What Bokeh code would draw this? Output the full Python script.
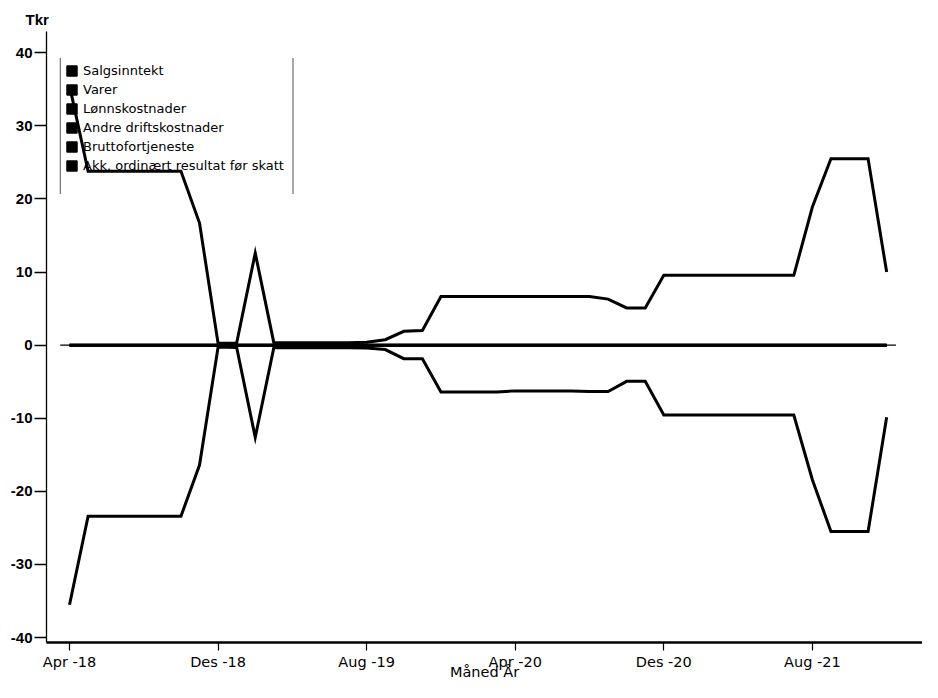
import numpy as np
from bokeh.plotting import figure
from bokeh.models import Range1d, FixedTicker, Legend, LegendItem, Title, BoxAnnotation
from bokeh.embed import file_html
from bokeh.resources import INLINE

# ---- data ----
month_names = ["Jan", "Feb", "Mar", "Apr", "Mai", "Jun", "Jul", "Aug", "Sep", "Okt", "Nov", "Des"]
periods = [("18", 3, 12), ("19", 0, 12), ("20", 0, 12), ("21", 0, 12)]
months = [f"{month_names[m]} -{yy}" for yy, a, b in periods for m in range(a, b)]

tick_labels = ["Apr -18", "Des -18", "Aug -19", "Apr -20", "Des -20", "Aug -21"]
y_ticks = [-40, -30, -20, -10, 0, 10, 20, 30, 40]

series_names = ["Salgsinntekt", "Varer", "Lønnskostnader", "Andre driftskostnader",
                "Bruttofortjeneste", "Akk. ordinært resultat før skatt"]

salgsinntekt = [35.5, 23.8, 23.8, 23.8, 23.8, 23.8, 23.8, 16.7, 0.25, 0.3,
                12.6, 0.35, 0.35, 0.35, 0.35, 0.35, 0.4, 0.75, 1.9, 2.0,
                6.65, 6.65, 6.65, 6.65, 6.65, 6.65, 6.65, 6.65, 6.65, 6.3,
                5.1, 5.1, 9.55, 9.55, 9.55, 9.55, 9.55, 9.55, 9.55, 9.55,
                18.9, 25.5, 25.5, 25.5, 10.0]
varer = [-35.5, -23.4, -23.4, -23.4, -23.4, -23.4, -23.4, -16.4, -0.25, -0.3,
         -12.6, -0.35, -0.35, -0.35, -0.35, -0.35, -0.4, -0.6, -1.85, -1.85,
         -6.4, -6.4, -6.4, -6.4, -6.25, -6.25, -6.25, -6.25, -6.35, -6.35,
         -4.95, -4.95, -9.55, -9.55, -9.55, -9.55, -9.55, -9.55, -9.55, -9.55,
         -18.4, -25.5, -25.5, -25.5, -9.85]
lonnskostnader = [0, 0, 0, 0, 0, 0, 0, 0, 0, 0, 0, 0, 0, 0, 0, 0, 0, 0, 0, 0, 0, 0, 0,
                  0, 0, 0, 0, 0, 0, 0, 0, 0, 0, 0, 0, 0, 0, 0, 0, 0, 0, 0, 0, 0, 0]
andre_drift = [0, 0, 0, 0, 0, 0, 0, 0, 0, 0, 0, 0, 0, 0, 0, 0, 0, 0, 0, 0, 0, 0, 0,
               0, 0, 0, 0, 0, 0, 0, 0, 0, 0, 0, 0, 0, 0, 0, 0, 0, 0, 0, 0, 0, 0]
bruttofortjeneste = [0, 0, 0, 0, 0, 0, 0, 0, 0, 0, 0, 0, 0, 0, 0, 0, 0, 0, 0, 0, 0, 0, 0,
                     0, 0, 0, 0, 0, 0, 0, 0, 0, 0, 0, 0, 0, 0, 0, 0, 0, 0, 0, 0, 0, 0]
akk_resultat = [0, 0, 0, 0, 0, 0, 0, 0, 0, 0, 0, 0, 0, 0, 0, 0, 0, 0, 0, 0, 0, 0, 0,
                0, 0, 0, 0, 0, 0, 0, 0, 0, 0, 0, 0, 0, 0, 0, 0, 0, 0, 0, 0, 0, 0]

x = list(range(len(months)))

# ---- figure ----
p = figure(width=922, height=682, output_backend="svg", toolbar_location=None,
           x_range=Range1d(-1.24, 45.93), y_range=Range1d(-40.67, 42.91),
           min_border_left=46, min_border_right=0, min_border_top=31, min_border_bottom=38)
p.grid.visible = False
p.outline_line_color = None
p.background_fill_color = "white"

# bars of zero height (baseline across categories)
p.vbar(x=x, top=bruttofortjeneste, width=1.0, bottom=0, fill_color="black",
       line_color="black", line_width=1.3)
for ys in (lonnskostnader, andre_drift, akk_resultat):
    p.line(x, ys, line_color="black", line_width=3)
p.line(x, salgsinntekt, line_color="black", line_width=3, line_join="miter")
p.line(x, varer, line_color="black", line_width=3, line_join="miter")

# legend with square swatches (swatch renderers hold no drawable point)
items = []
for name in series_names:
    r = p.quad(left=np.array([np.nan]), right=np.array([np.nan]),
               top=np.array([np.nan]), bottom=np.array([np.nan]),
               fill_color="black", line_color="black")
    items.append(LegendItem(label=name, renderers=[r]))
legend = Legend(items=items, location=(19, 469), padding=0, margin=0, spacing=4,
                glyph_width=13, glyph_height=13, label_height=13, label_standoff=5,
                label_text_font="DejaVu Sans", label_text_font_size="13px",
                label_text_color="black",
                border_line_alpha=0, background_fill_alpha=0)
p.add_layout(legend)

for lx in (13.3, 246.0):
    p.add_layout(BoxAnnotation(left=lx, right=lx + 1, top=584.4, bottom=448.6,
                               left_units="screen", right_units="screen",
                               top_units="screen", bottom_units="screen",
                               fill_color="#555555", fill_alpha=1, line_color=None))

# axes
xa = p.xaxis[0]
xa.ticker = FixedTicker(ticks=[months.index(t) for t in tick_labels])
xa.major_label_overrides = {months.index(t): t for t in tick_labels}
xa.axis_line_width = 2.5
xa.axis_line_color = "black"
xa.major_tick_out = 8
xa.major_tick_in = 0
xa.major_tick_line_width = 1.2
xa.minor_tick_out = 0
xa.minor_tick_in = 0
xa.major_label_standoff = 3
xa.major_label_text_font = "DejaVu Sans"
xa.major_label_text_font_size = "14.5px"
xa.major_label_text_color = "black"
xa.axis_label = "Måned År"
xa.axis_label_standoff = -9
xa.axis_label_text_font = "DejaVu Sans"
xa.axis_label_text_font_size = "14.5px"
xa.axis_label_text_font_style = "normal"
xa.axis_label_text_color = "black"

ya = p.yaxis[0]
ya.ticker = FixedTicker(ticks=y_ticks)
ya.major_label_overrides = {t: str(t) for t in y_ticks}
ya.axis_line_width = 1.3
ya.axis_line_color = "black"
ya.major_tick_out = 12
ya.major_tick_in = 0
ya.major_tick_line_width = 1.6
ya.minor_tick_out = 0
ya.minor_tick_in = 0
ya.major_label_standoff = 2
ya.major_label_text_font = "Liberation Sans"
ya.major_label_text_font_style = "bold"
ya.major_label_text_font_size = "15px"
ya.major_label_text_color = "black"

p.add_layout(Title(text="Tkr", align="left", offset=-21, standoff=7,
                   text_font="Liberation Sans", text_font_style="bold",
                   text_font_size="15px", text_color="black"), "above")

open("out.html", "w").write(file_html(p, INLINE))
